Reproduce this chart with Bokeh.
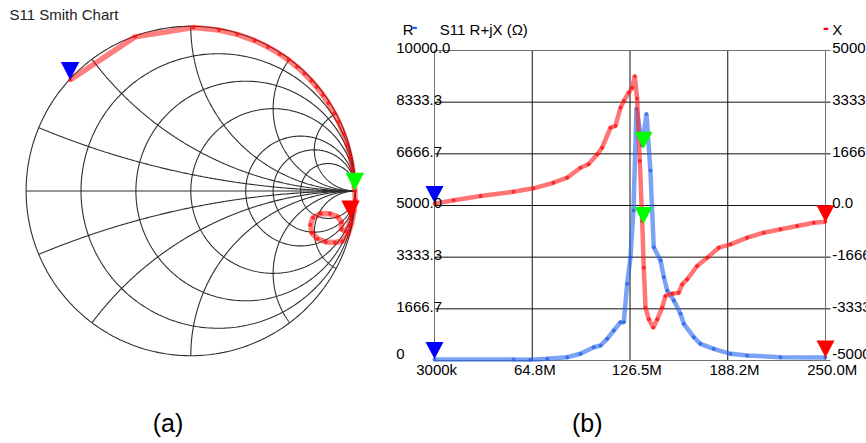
import numpy as np
from bokeh.plotting import figure
from bokeh.layouts import row
from bokeh.models import Range1d, Label
from bokeh.embed import file_html
from bokeh.resources import INLINE

# ---------------- data ----------------
smith_title = "S11 Smith Chart"
smith_r_circles = [0.2, 0.5, 1.0, 2.0, 3.0, 5.0]
smith_x_arcs = [0.2, 0.5, 1.0, 2.0, 4.0]

# S11 reflection coefficient trace
gamma_re = [-0.733, -0.339, 0.017, 0.172, 0.282, 0.388, 0.469, 0.540, 0.593, 0.644,
            0.689, 0.731, 0.764, 0.802, 0.835, 0.871, 0.898, 0.928, 0.950, 0.969,
            0.981, 0.987, 0.990, 0.993, 0.996, 0.998, 0.992, 0.975, 0.955, 0.920,
            0.875, 0.820, 0.770, 0.735, 0.727, 0.742, 0.790, 0.845, 0.892, 0.915,
            0.915, 0.940, 0.962, 0.970]
gamma_im = [0.674, 0.936, 0.993, 0.977, 0.951, 0.913, 0.874, 0.832, 0.796, 0.754,
            0.713, 0.670, 0.632, 0.583, 0.534, 0.473, 0.419, 0.347, 0.282, 0.206,
            0.141, 0.095, 0.064, 0.026, 0.002, -0.055, -0.120, -0.200, -0.262, -0.305,
            -0.313, -0.310, -0.290, -0.255, -0.205, -0.162, -0.137, -0.138, -0.156, -0.190,
            -0.232, -0.245, -0.210, -0.167]
smith_marker_idx = [0, 24, 43]
marker_colors = ["#0000ff", "#00ff00", "#ff0000"]

# R (left axis) vs frequency in MHz
freq_r = [3.0, 52.9, 63.6, 74.2, 86.8, 95.2, 103.6, 107.9, 112.1, 116.3,
          120.5, 122.6, 124.7, 126.8, 128.7, 130.6, 134.2, 136.9, 139.4, 141.5,
          145.8, 147.9, 150.0, 154.2, 158.4, 160.5, 166.8, 171.0, 179.4, 190.0,
          200.5, 221.6, 250.0]
r_ohm = [30, 32, 23, 55, 106, 216, 429, 484, 700, 968,
         1236, 1236, 2474, 3332, 4839, 8129, 6936, 7958, 6129, 3655,
         3226, 2687, 2258, 1936, 1507, 1184, 752, 539, 377, 216,
         161, 106, 100]

# X (right axis) vs frequency in MHz
freq_x = [3.0, 15.2, 32.1, 52.9, 65.5, 78.2, 86.8, 95.2, 100.3, 105.8,
          108.9, 114.2, 117.3, 120.5, 122.6, 125.7, 127.9, 129.5, 131.0, 132.7,
          134.2, 135.2, 136.3, 138.4, 141.2, 143.7, 146.8, 148.9, 153.2, 157.3,
          159.5, 162.6, 168.9, 175.3, 182.6, 190.0, 200.5, 211.0, 221.6, 232.1,
          242.6, 250.0]
x_ohm = [60, 168, 306, 445, 555, 735, 897, 1219, 1329, 1652,
         1865, 2510, 2565, 3155, 3371, 3639, 3800, 4178, 3450, 1436,
         -500, -2007, -3297, -3671, -3942, -3671, -3297, -2919, -2845, -2813,
         -2542, -2381, -1952, -1684, -1361, -1252, -1039, -877, -768, -661,
         -555, -523]

marker_freq = [3.0, 135.0, 250.0]
marker_r = [50, 6830, 100]
marker_x = [80, -600, -540]

r_ticks = [0, 1666.7, 3333.3, 5000, 6666.7, 8333.3, 10000]
r_tick_labels = ["0", "1666.7", "3333.3", "5000.0", "6666.7", "8333.3", "10000.0"]
x_ticks = [-5000, -3333.3, -1666.7, 0, 1666.7, 3333.3, 5000]
x_tick_labels = ["-5000", "-3333", "-1666", "0.0", "1666", "3333", "5000"]
f_ticks = [3.0, 64.75, 126.5, 188.25, 250.0]
f_tick_labels = ["3000k", "64.8M", "126.5M", "188.2M", "250.0M"]

chart_b_title = "S11 R+jX (\u03a9)"
panel_labels = ["(a)", "(b)"]

# ---------------- styles ----------------
FONT = "Liberation Sans"
FS = "15px"
H = 443


def add_label(p, x, y, text, xo=0.0, yo=0.0, align="left", size=FS, color="#000000",
              bold=False, y_range_name="default", font=FONT):
    # baseline correction for how the text box is placed
    corr = 0.42 * float(size[:-2])
    p.add_layout(Label(x=x, y=y, x_offset=xo, y_offset=yo + corr, text=text, text_align=align,
                       text_baseline="alphabetic", text_font=font, text_font_size=size,
                       text_color=color, text_font_style="bold" if bold else "normal",
                       y_range_name=y_range_name))


# ---------------- (a) Smith chart ----------------
W1 = 380
S = 164.7          # px per unit of |Gamma|
CX, CY = 190.3, 190.5
sm = figure(width=W1, height=H, x_range=Range1d(-CX / S, (W1 - CX) / S),
            y_range=Range1d((CY - H) / S, CY / S), min_border=0,
            x_axis_location=None, y_axis_location=None, toolbar_location=None,
            output_backend="svg", outline_line_color=None,
            background_fill_color="white", border_fill_color="white")
sm.grid.visible = False

t = np.linspace(0, 2 * np.pi, 400)
gx, gy = [list(np.cos(t))], [list(np.sin(t))]
gx.append([-1.0, 1.0]); gy.append([0.0, 0.0])
for r in smith_r_circles:
    c, rad = r / (1 + r), 1 / (1 + r)
    gx.append(list(c + rad * np.cos(t))); gy.append(list(rad * np.sin(t)))
for xv in smith_x_arcs:
    a0 = np.arctan2((xv * xv - 1) / xv, -2.0)
    if a0 < 0:
        a0 += 2 * np.pi
    th = np.linspace(a0, 1.5 * np.pi, 300)
    ax = 1 + np.cos(th) / xv
    ay = 1 / xv + np.sin(th) / xv
    gx.append(list(ax)); gy.append(list(ay))
    gx.append(list(ax)); gy.append(list(-ay))
sm.multi_line(gx, gy, line_color="#2e2e2e", line_width=1.1)

sm.line(gamma_re, gamma_im, line_color="#ff0000", line_alpha=0.5, line_width=5.5)
sm.scatter(gamma_re, gamma_im, size=3, color="#ff1010", alpha=0.7)

TW, TH = 9.2, 18.0
mx = [gamma_re[i] for i in smith_marker_idx]
my = [gamma_im[i] for i in smith_marker_idx]
sm.patches(xs=[[x - TW / S, x + TW / S, x] for x in mx],
           ys=[[y + TH / S, y + TH / S, y] for y in my],
           fill_color=marker_colors, line_color=None)

add_label(sm, (9 - CX) / S, (CY - 20.7) / S, smith_title, color="#222222")
add_label(sm, (167.5 - CX) / S, (CY - 433) / S, panel_labels[0], align="center", size="25px")

# ---------------- (b) R + jX chart ----------------
W2 = 486
FL, FT, FW, FH = 54, 50, 391, 310
fx = (f_ticks[-1] - f_ticks[0]) / FW
ry = (r_ticks[-1] - r_ticks[0]) / FH
fmin, fmax = f_ticks[0], f_ticks[-1]
rmin, rmax = r_ticks[0], r_ticks[-1]
y_lo = rmin - (H - FT - FH) * ry
y_hi = rmin + (FT + FH) * ry
shift = x_ticks[0] - r_ticks[0]

pr = figure(width=W2, height=H, x_range=Range1d(fmin - FL * fx, fmin + (W2 - FL) * fx),
            y_range=Range1d(y_lo, y_hi), min_border=0,
            x_axis_location=None, y_axis_location=None, toolbar_location=None,
            output_backend="svg", outline_line_color=None,
            background_fill_color="white", border_fill_color="white")
pr.grid.visible = False
pr.extra_y_ranges = {"x": Range1d(y_lo + shift, y_hi + shift)}

ext = 5 * fx
iv = f_ticks[1:-1]
pr.segment(x0=iv, y0=[rmin] * len(iv), x1=iv, y1=[rmax] * len(iv), line_color="#111111", line_width=1)
ih = r_ticks[1:-1]
pr.segment(x0=[fmin] * len(ih), y0=ih, x1=[fmax + ext] * len(ih), y1=ih, line_color="#111111", line_width=1)
pr.segment(x0=[fmin, fmax, fmin, fmin], y0=[rmin, rmin, rmin, rmax],
           x1=[fmin, fmax, fmax + ext, fmax + ext], y1=[rmax, rmax, rmin, rmax],
           line_color="#707070", line_width=1)

pr.line(freq_r, r_ohm, line_color="#2266ee", line_alpha=0.6, line_width=4.5)
pr.scatter(freq_r, r_ohm, size=3, color="#2a5fe0", alpha=0.7)
pr.line(freq_x, x_ohm, y_range_name="x", line_color="#ff2020", line_alpha=0.62, line_width=4.5)
pr.scatter(freq_x, x_ohm, y_range_name="x", size=3, color="#ff1010", alpha=0.7)

TW2, TH2 = 9.0, 17.0
pr.patches(xs=[[f - TW2 * fx, f + TW2 * fx, f] for f in marker_freq],
           ys=[[v + TH2 * ry, v + TH2 * ry, v] for v in marker_r],
           fill_color=marker_colors, line_color=None)
pr.patches(xs=[[f - TW2 * fx, f + TW2 * fx, f] for f in marker_freq],
           ys=[[v + TH2 * ry, v + TH2 * ry, v] for v in marker_x],
           fill_color=marker_colors, line_color=None, y_range_name="x")

for i, (v, txt) in enumerate(zip(r_ticks, r_tick_labels)):
    add_label(pr, fmin, v, txt, xo=-38.3, yo=(0 if i == 0 else -4))
for i, (v, txt) in enumerate(zip(x_ticks, x_tick_labels)):
    add_label(pr, fmax, v, txt, xo=6.7, yo=(0 if i == 0 else -4), y_range_name="x")
for v, txt in zip(f_ticks, f_tick_labels):
    add_label(pr, v, rmin, txt, xo=-18.3, yo=-15)

add_label(pr, fmin, rmax, "R", xo=-31.7, yo=14.5)
add_label(pr, fmin, rmax, "-", xo=-23.0, yo=16, size="18px", color="#1f5fff", bold=True)
add_label(pr, fmin, rmax, chart_b_title, xo=5.3, yo=14.5)
add_label(pr, fmax, rmax, "-", xo=-2.4, yo=15, size="18px", color="#ff0000", bold=True)
add_label(pr, fmax, rmax, "X", xo=6.7, yo=14.5)
add_label(pr, fmin + (586.7 - W1 - FL) * fx, rmin, panel_labels[1], yo=-73, align="center", size="25px")

layout = row(sm, pr)
open("out.html", "w").write(file_html(layout, INLINE))
